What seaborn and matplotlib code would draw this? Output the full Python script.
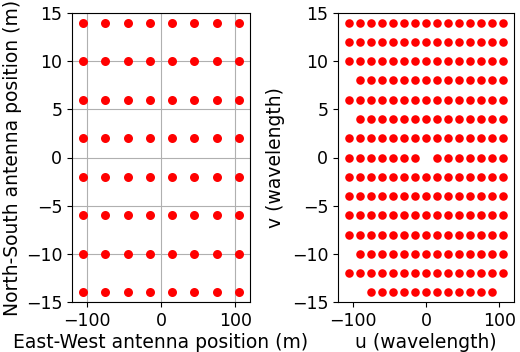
import matplotlib
matplotlib.use('Agg')
import matplotlib.pyplot as plt
import seaborn as sns
import pandas as pd

# antenna layout (m)
ant_x = [-105, -75, -45, -15, 15, 45, 75, 105]
ant_y = [-14, -10, -6, -2, 2, 6, 10, 14]

# uv coverage rows (v -> list of u), in wavelengths
u_full = [-105, -90, -75, -60, -45, -30, -15, 0, 15, 30, 45, 60, 75, 90, 105]
uv_rows = {
    14: u_full,
    12: u_full,
    10: u_full,
    8: [-90, -75, -60, -45, -30, -15, 0, 15, 30, 45, 60, 75, 90, 105],
    6: u_full,
    4: [-90, -75, -60, -45, -30, -15, 0, 15, 30, 45, 60, 75, 90, 105],
    2: u_full,
    0: [-105, -90, -75, -60, -45, -30, -15, 15, 30, 45, 60, 75, 90, 105],
    -2: u_full,
    -4: u_full,
    -6: u_full,
    -8: u_full,
    -10: [-90, -75, -60, -45, -30, -15, 0, 15, 30, 45, 60, 75, 90, 105],
    -12: u_full,
    -14: [-75, -60, -45, -30, -15, 0, 15, 30, 45, 60, 75, 90],
}

ant = pd.DataFrame([(x, y) for y in ant_y for x in ant_x], columns=['x', 'y'])
uv = pd.DataFrame([(u, v) for v, us in uv_rows.items() for u in us], columns=['u', 'v'])

sns.set_theme(style="ticks")
plt.rcParams['font.family'] = ['DejaVu Sans']
plt.rcParams.update({'font.size': 13.5, 'axes.labelsize': 13.5,
                     'xtick.labelsize': 12.5, 'ytick.labelsize': 12.5,
                     'text.color': 'black', 'axes.labelcolor': 'black',
                     'axes.edgecolor': 'black', 'axes.linewidth': 0.8,
                     'xtick.color': 'black', 'ytick.color': 'black',
                     'xtick.major.size': 3.5, 'ytick.major.size': 3.5,
                     'xtick.major.pad': 3.5, 'ytick.major.pad': 3.5,
                     'xtick.major.width': 0.8, 'ytick.major.width': 0.8})

fig = plt.figure(figsize=(5.2, 3.52), dpi=100)
ax1 = fig.add_axes([72 / 520, 50 / 352, 178 / 520, 289 / 352])
ax2 = fig.add_axes([338 / 520, 50 / 352, 176 / 520, 289 / 352])

sns.scatterplot(data=ant, x='x', y='y', ax=ax1, color='red', s=42, linewidth=0)
ax1.grid(True, color='#b0b0b0', linewidth=0.8)
ax1.set_axisbelow(True)
ax1.set_xlim(-120, 120)
ax1.set_ylim(-15, 15)
ax1.set_xlabel('East-West antenna position (m)', labelpad=2)
ax1.set_ylabel('North-South antenna position (m)', labelpad=3)

sns.scatterplot(data=uv, x='u', y='v', ax=ax2, color='red', s=38, linewidth=0)
ax2.set_xlim(-120, 120)
ax2.set_ylim(-15, 15)
ax2.set_xlabel('u (wavelength)', labelpad=2)
ax2.set_ylabel('v (wavelength)', labelpad=5)

for ax in (ax1, ax2):
    ax.set_xticks([-100, 0, 100])
    ax.set_yticks([-15, -10, -5, 0, 5, 10, 15])

plt.savefig('out.png', dpi=100)
plt.close()
